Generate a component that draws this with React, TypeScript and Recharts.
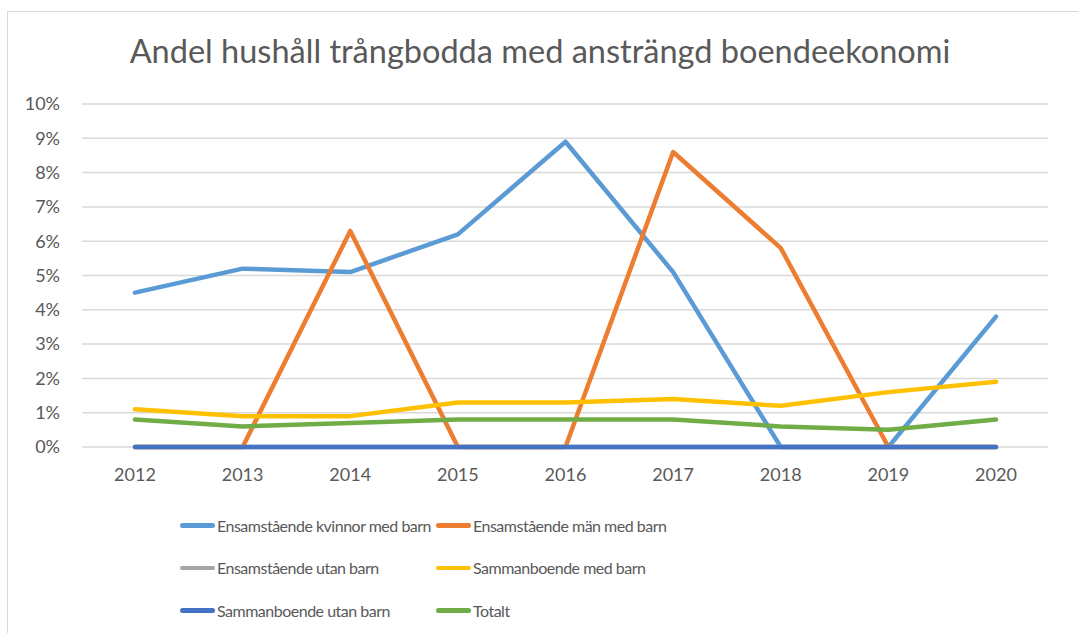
import React from 'react';
import { LineChart, Line, XAxis, YAxis, CartesianGrid } from 'recharts';

const years = ['2012', '2013', '2014', '2015', '2016', '2017', '2018', '2019', '2020'];
const kvinnorMedBarn = [4.5, 5.2, 5.1, 6.2, 8.9, 5.1, 0, 0, 3.8];
const manMedBarn = [0, 0, 6.3, 0, 0, 8.6, 5.8, 0, 0];
const ensamUtanBarn = [0, 0, 0, 0, 0, 0, 0, 0, 0];
const sammanMedBarn = [1.1, 0.9, 0.9, 1.3, 1.3, 1.4, 1.2, 1.6, 1.9];
const sammanUtanBarn = [0, 0, 0, 0, 0, 0, 0, 0, 0];
const totalt = [0.8, 0.6, 0.7, 0.8, 0.8, 0.8, 0.6, 0.5, 0.8];
const yTicks = [0, 1, 2, 3, 4, 5, 6, 7, 8, 9, 10];

const series = [
    { key: 'kvinnor', name: 'Ensamstående kvinnor med barn', values: kvinnorMedBarn, color: '#5B9BD5' },
    { key: 'man', name: 'Ensamstående män med barn', values: manMedBarn, color: '#ED7D31' },
    { key: 'ensamUtan', name: 'Ensamstående utan barn', values: ensamUtanBarn, color: '#A5A5A5' },
    { key: 'sammanMed', name: 'Sammanboende med barn', values: sammanMedBarn, color: '#FFC000' },
    { key: 'sammanUtan', name: 'Sammanboende utan barn', values: sammanUtanBarn, color: '#4472C4' },
    { key: 'totalt', name: 'Totalt', values: totalt, color: '#70AD47' },
];

const data = years.map((year, i) => {
    const row: any = { year };
    series.forEach(s => { row[s.key] = s.values[i]; });
    return row;
});

const font = 'Lato, "Open Sans", sans-serif';
const textColor = '#595959';

export default function App() {
    return (
        <div style={{ position: 'absolute', left: 0, top: 0, width: 1078, height: 633, background: '#fff', fontFamily: font, overflow: 'hidden' }}>
            {/* chart frame */}
            <div style={{ position: 'absolute', left: 7, top: 11, width: 1100, height: 700, border: '1px solid #d9d9d9', boxSizing: 'border-box' }} />

            <div style={{ position: 'absolute', left: 0, top: 30, width: 1080, textAlign: 'center', fontSize: 32.5, fontWeight: 400, color: textColor, lineHeight: '42px' }}>
                Andel hushåll trångbodda med ansträngd boendeekonomi
            </div>

            <div style={{ position: 'absolute', left: 0, top: 0 }}>
                <LineChart width={1078} height={633} data={data} margin={{ top: 104, right: 30, left: 0, bottom: 146 }}>
                    <CartesianGrid vertical={false} stroke="#d9d9d9" strokeWidth={1.5} />
                    <XAxis
                        dataKey="year"
                        axisLine={false}
                        tickLine={false}
                        tickSize={0}
                        tickMargin={21}
                        height={40}
                        padding={{ left: 53, right: 52 }}
                        tick={{ fontSize: 18, fill: textColor, fontFamily: font }}
                    />
                    <YAxis
                        type="number"
                        domain={[0, 10]}
                        ticks={yTicks}
                        width={82}
                        axisLine={false}
                        tickLine={false}
                        tickSize={0}
                        tickMargin={22}
                        tickFormatter={(v) => `${v}%`}
                        tick={{ fontSize: 18, fill: textColor, fontFamily: font }}
                    />
                    {series.map(s => (
                        <Line
                            key={s.key}
                            type="linear"
                            dataKey={s.key}
                            name={s.name}
                            stroke={s.color}
                            strokeWidth={4.5}
                            strokeLinecap="round"
                            strokeLinejoin="round"
                            dot={false}
                            isAnimationActive={false}
                        />
                    ))}
                </LineChart>
            </div>

            {/* legend */}
            <div style={{ position: 'absolute', left: 180, top: 504, display: 'grid', gridTemplateColumns: '256px 300px', rowGap: 0 }}>
                {series.map(s => (
                    <div key={s.key} style={{ display: 'flex', alignItems: 'center', height: 42.5 }}>
                        <div style={{ width: 35, height: 4.5, borderRadius: 3, background: s.color, marginRight: 2, flexShrink: 0 }} />
                        <span style={{ fontSize: 16, letterSpacing: -0.5, color: textColor, whiteSpace: 'nowrap' }}>{s.name}</span>
                    </div>
                ))}
            </div>
        </div>
    );
}
